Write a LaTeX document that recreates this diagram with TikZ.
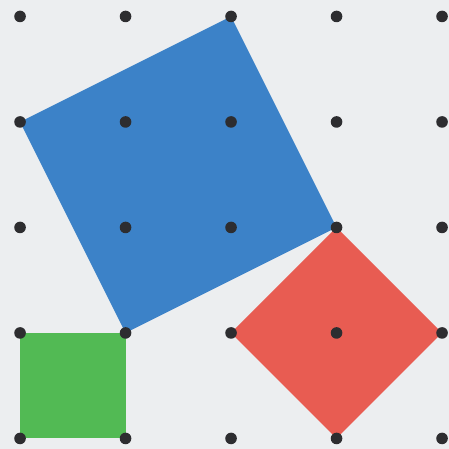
\documentclass[tikz,border=0pt]{standalone}
\definecolor{bg}{RGB}{236,238,240}
\definecolor{bluesq}{RGB}{60,130,200}
\definecolor{redsq}{RGB}{232,92,82}
\definecolor{greensq}{RGB}{82,186,84}
\definecolor{dotc}{RGB}{45,45,48}
\begin{document}
\begin{tikzpicture}[x=1cm,y=1cm,
  dotstyle/.style={circle,fill=dotc,inner sep=0pt,minimum size=0.11cm}]
\fill[bg] (-0.19,-0.10) rectangle (4.066,4.156);
\useasboundingbox (-0.19,-0.10) rectangle (4.066,4.156);
\fill[bluesq] (0,3) -- (2,4) -- (3,2) -- (1,1) -- cycle;
\fill[redsq] (3,2) -- (4,1) -- (3,0) -- (2,1) -- cycle;
\fill[greensq] (0,0) rectangle (1,1);
\foreach \i in {0,...,4}{
  \foreach \j in {0,...,4}{
    \node[dotstyle] (d\i\j) at (\i,\j) {};
  }
}
\end{tikzpicture}
\end{document}
